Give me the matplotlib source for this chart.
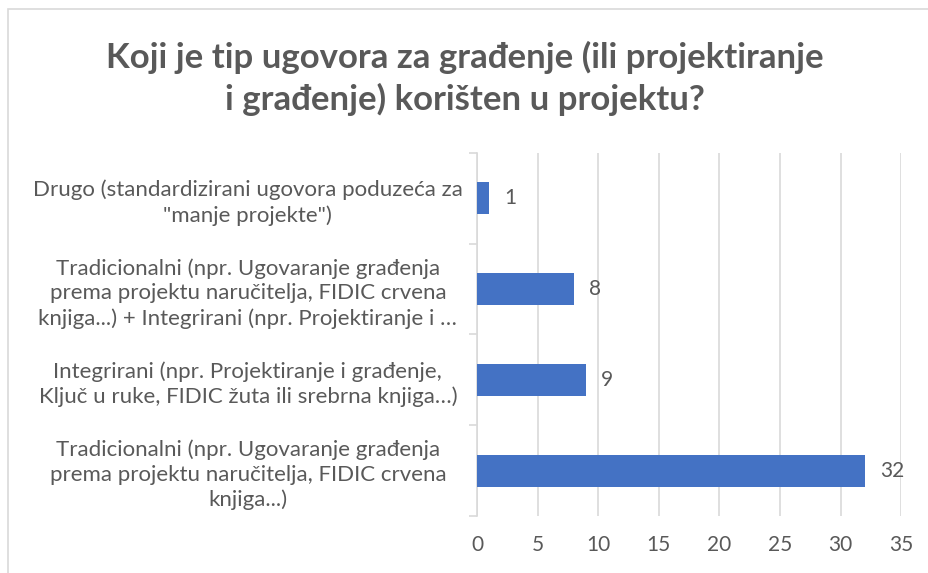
import matplotlib

matplotlib.use("Agg")
import matplotlib.pyplot as plt
from matplotlib.patches import Rectangle

# top to bottom as shown in the chart
categories = [
    'Drugo (standardizirani ugovora poduzeća za\n"manje projekte")',
    "Tradicionalni (npr. Ugovaranje građenja\nprema projektu naručitelja, FIDIC crvena\nknjiga...) + Integrirani (npr. Projektiranje i …",
    "Integrirani (npr. Projektiranje i građenje,\nKljuč u ruke, FIDIC žuta ili srebrna knjiga…)",
    "Tradicionalni (npr. Ugovaranje građenja\nprema projektu naručitelja, FIDIC crvena\nknjiga...)",
]
counts = [1, 8, 9, 32]
x_ticks = [0, 5, 10, 15, 20, 25, 30, 35]
title = "Koji je tip ugovora za građenje (ili projektiranje\ni građenje) korišten u projektu?"

TEXT = "#595959"
BAR = "#4472C4"
GRID = "#D9D9D9"

plt.rcParams["font.family"] = ["Lato", "DejaVu Sans"]

fig = plt.figure(figsize=(9.29, 5.73), dpi=100)
ax = fig.add_axes([0.5135, 0.0995, 0.4565, 0.6335])

# chart border (image is cropped on right/bottom)
fig.patches.append(
    Rectangle((8 / 929, -0.1), 1.2, 1.1 - 9 / 573, transform=fig.transFigure,
              fill=False, edgecolor="#D9D9D9", linewidth=1.2)
)

n = len(categories)
ypos = list(range(n))[::-1]
ax.barh(ypos, counts, height=0.355, color=BAR, zorder=3)

for y, v in zip(ypos, counts):
    ax.annotate(str(v), (v, y), xytext=(11, 0), textcoords="offset points",
                va="center", ha="left", fontsize=15, color=TEXT)

ax.set_xlim(0, 35)
ax.set_ylim(-0.5, n - 0.5)
ax.set_xticks(x_ticks)
ax.set_xticklabels([str(t) for t in x_ticks], fontsize=15, color=TEXT)
ax.tick_params(axis="x", length=0, pad=14)
ax.grid(axis="x", color=GRID, linewidth=1.2, zorder=0)

ax.set_yticks(ypos)
ax.set_yticklabels(categories, fontsize=16, color=TEXT, ha="center",
                   linespacing=1.28)
ax.tick_params(axis="y", length=0, pad=165)
# category boundary ticks
ax.set_yticks([i - 0.5 for i in range(n + 1)], minor=True)
ax.tick_params(axis="y", which="minor", length=6, color=GRID, width=1.2)

for side in ["top", "right", "bottom"]:
    ax.spines[side].set_visible(False)
ax.spines["left"].set_color(GRID)
ax.spines["left"].set_linewidth(1.2)

fig.text(0.5, 0.863, title, ha="center", va="center", fontsize=25,
         fontweight="bold", color=TEXT, linespacing=1.3)

fig.savefig("out.png", dpi=100)
